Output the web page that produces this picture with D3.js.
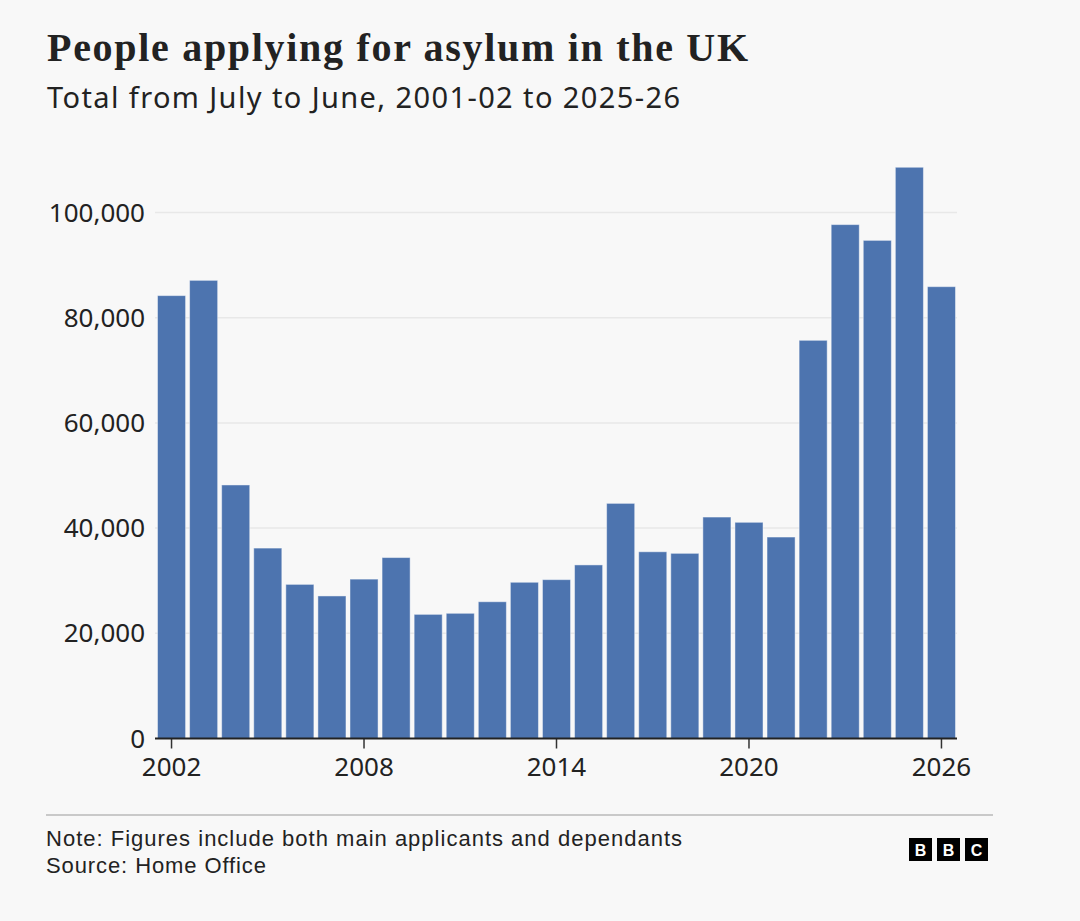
<!DOCTYPE html>
<html>
<head>
<meta charset="utf-8">
<script src="https://cdn.jsdelivr.net/npm/d3@7"></script>
<style>
  html, body { margin: 0; padding: 0; background: #f8f8f8; }
  svg { display: block; }
  .sans { font-family: "Noto Sans", "Open Sans", sans-serif; fill: #222; }
  .foot { font-family: "Liberation Sans", Arial, sans-serif; fill: #222; }
</style>
</head>
<body>
<svg id="chart" width="1080" height="921"></svg>
<script>
// year ending June, applications (main applicants + dependants)
var years = [2002, 2003, 2004, 2005, 2006, 2007, 2008, 2009, 2010, 2011, 2012, 2013,
             2014, 2015, 2016, 2017, 2018, 2019, 2020, 2021, 2022, 2023, 2024, 2025, 2026];
var applications = [84200, 87100, 48200, 36200, 29300, 27100, 30300, 34400, 23600, 23800,
                    26000, 29700, 30200, 33000, 44700, 35500, 35200, 42100, 41100, 38300,
                    75700, 97700, 94700, 108600, 85900];
var yTicks = [0, 20000, 40000, 60000, 80000, 100000];
var xTicks = [2002, 2008, 2014, 2020, 2026];

var title = "People applying for asylum in the UK",
    subtitle = "Total from July to June, 2001-02 to 2025-26",
    note = "Note: Figures include both main applicants and dependants",
    source = "Source: Home Office";

var svg = d3.select("#chart");
var BAR = "#4d74af";

// spread letters so a line of text fills a given width (fallback fonts are narrower)
function fitWidth(text, w) {
  var len = text.node().getComputedTextLength(),
      n = text.text().length;
  if(len < w && n > 1) text.style("letter-spacing", ((w - len) / (n - 1)) + "px");
}

svg.append("rect").attr("width", 1080).attr("height", 921).attr("fill", "#f8f8f8");

svg.append("text")
    .attr("x", 47).attr("y", 61)
    .style("font-family", "'Liberation Serif', 'DejaVu Serif', serif")
    .style("font-weight", "bold")
    .style("font-size", "40px")
    .attr("fill", "#222")
    .text(title)
    .call(fitWidth, 701);

svg.append("text").attr("class", "sans")
    .attr("x", 47).attr("y", 108)
    .style("font-size", "29px")
    .text(subtitle)
    .call(fitWidth, 633);

var x = d3.scaleBand()
    .domain(years)
    .range([157.5, 955.5])
    .paddingInner(0.125)
    .paddingOuter(0);

var y = d3.scaleLinear()
    .domain([0, 100000])
    .range([738.5, 212.5]);

// gridlines
svg.append("g").selectAll("line")
    .data(yTicks.filter(d => d > 0))
    .join("line")
    .attr("x1", 155).attr("x2", 957)
    .attr("y1", d => y(d)).attr("y2", d => y(d))
    .attr("stroke", "#e8e8e8")
    .attr("stroke-width", 1.5);

// y labels
svg.append("g").selectAll("text")
    .data(yTicks)
    .join("text")
    .attr("class", "sans")
    .attr("x", 145)
    .attr("y", d => y(d))
    .attr("dy", "0.35em")
    .attr("text-anchor", "end")
    .style("font-size", "26px")
    .text(d => d3.format(",")(d));

// bars
svg.append("g").selectAll("rect")
    .data(years)
    .join("rect")
    .attr("x", d => x(d))
    .attr("width", x.bandwidth())
    .attr("y", (d, i) => y(applications[i]))
    .attr("height", (d, i) => y(0) - y(applications[i]))
    .attr("fill", BAR)
    .attr("stroke", "rgba(255,255,255,0.45)")
    .attr("stroke-width", 1);

// x axis
var xAxis = d3.axisBottom(x)
    .tickValues(xTicks)
    .tickSize(10)
    .tickPadding(9)
    .tickFormat(d3.format("d"));

var gx = svg.append("g")
    .attr("transform", "translate(0," + y(0) + ")")
    .call(xAxis);
gx.select(".domain").remove();
gx.selectAll(".tick line").attr("stroke", "#333").attr("stroke-width", 1.5);
gx.selectAll(".tick text")
    .attr("class", "sans")
    .attr("fill", "#222")
    .style("font-size", "26px");

svg.append("line")
    .attr("x1", 155).attr("x2", 957)
    .attr("y1", y(0)).attr("y2", y(0))
    .attr("stroke", "#222")
    .attr("stroke-width", 2);

// footer
svg.append("line")
    .attr("x1", 46).attr("x2", 993)
    .attr("y1", 815).attr("y2", 815)
    .attr("stroke", "#c9c9c9")
    .attr("stroke-width", 2);

svg.append("text").attr("class", "foot")
    .attr("x", 46).attr("y", 846)
    .style("font-size", "22px")
    .text(note)
    .call(fitWidth, 636);

svg.append("text").attr("class", "foot")
    .attr("x", 46).attr("y", 873)
    .style("font-size", "22px")
    .text(source)
    .call(fitWidth, 220);

var logo = svg.append("g").attr("transform", "translate(909,838)");
["B", "B", "C"].forEach(function(letter, i) {
  logo.append("rect")
      .attr("x", i * 28).attr("y", 0)
      .attr("width", 23).attr("height", 23)
      .attr("fill", "#000");
  logo.append("text")
      .attr("x", i * 28 + 11.5).attr("y", 17.5)
      .attr("text-anchor", "middle")
      .style("font-family", "'Liberation Sans', Arial, sans-serif")
      .style("font-weight", "bold")
      .style("font-size", "16px")
      .attr("fill", "#fff")
      .text(letter);
});
</script>
</body>
</html>
